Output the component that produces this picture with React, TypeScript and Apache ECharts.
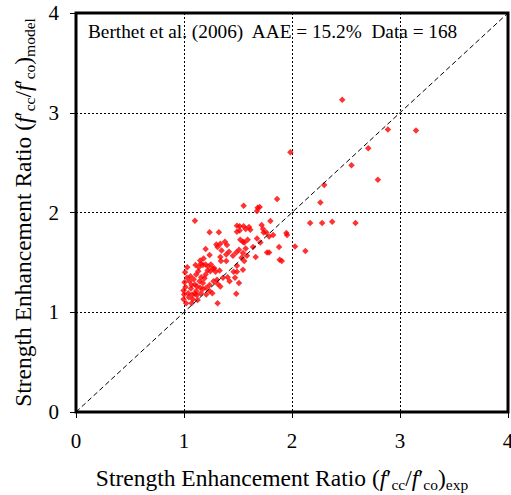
import React, { useEffect, useRef } from "react";
import * as echarts from "echarts";

const FONT = "Liberation Serif";

const ticks = [0, 1, 2, 3, 4];
const titleText = "Berthet et al. (2006)  AAE = 15.2%  Data = 168";
const diagonal = [[0, 0], [4, 4]];

const expRatio = [
  1.237, 1.323, 1.200, 1.299, 1.336, 1.379, 1.398, 1.416, 1.391, 1.348,
  1.311, 1.181, 1.237, 1.336, 1.342, 1.391, 1.453, 1.107, 1.138, 1.156,
  1.175, 1.200, 1.224, 1.249, 1.268, 1.243, 1.218, 1.200, 1.132, 1.113,
  1.292, 1.330, 1.459, 1.472, 1.361, 1.404, 1.422, 1.305, 1.336, 1.274,
  1.237, 1.206, 1.027, 1.051, 1.014, 1.070, 1.101, 1.144, 1.175, 1.064,
  1.113, 1.150, 1.175, 0.996, 1.002, 1.039, 1.076, 1.119, 1.156, 1.206,
  1.237, 1.262, 1.311, 0.996, 1.045, 1.082, 1.126, 1.070, 1.020, 1.101,
  1.484, 1.311, 1.101,
  1.862, 1.552, 1.682, 1.701, 1.676,
  1.490, 1.515, 1.552, 1.602, 1.614, 1.571, 1.515, 1.490,
  1.719, 1.732, 1.738, 1.800, 1.763, 1.825, 1.788, 1.676, 1.707,
  1.521, 1.546, 1.558, 1.589, 1.509, 1.571, 1.484,
  1.948, 1.954, 1.880, 2.028,
  1.639, 1.664, 1.769, 1.788,
  1.546, 1.533, 1.583, 1.558, 1.490, 1.546, 1.490, 1.509, 1.886, 1.905,
  2.465, 2.888, 3.148, 2.706, 2.551, 2.795, 2.298, 2.263, 1.985, 2.168,
  2.279, 2.372, 2.588, 2.124,
  1.005, 1.010, 1.030, 1.060, 1.090, 1.120, 1.160, 1.190, 1.280, 1.150,
];

const modelRatio = [
  1.801, 1.801, 1.633, 1.680, 1.687, 1.707, 1.673, 1.606, 1.580, 1.620,
  1.653, 1.539, 1.573, 1.553, 1.513, 1.513, 1.566, 1.473, 1.452, 1.486,
  1.473, 1.479, 1.459, 1.479, 1.439, 1.412, 1.419, 1.379, 1.412, 1.379,
  1.406, 1.419, 1.406, 1.345, 1.345, 1.352, 1.312, 1.325, 1.258, 1.312,
  1.272, 1.245, 1.345, 1.312, 1.252, 1.272, 1.278, 1.312, 1.292, 1.238,
  1.212, 1.245, 1.232, 1.218, 1.178, 1.191, 1.178, 1.171, 1.191, 1.178,
  1.212, 1.191, 1.285, 1.131, 1.151, 1.131, 1.124, 1.091, 1.091, 1.185,
  1.185, 1.091, 1.918,
  2.135, 2.068, 2.048, 2.055, 2.015,
  1.867, 1.861, 1.861, 1.854, 1.827, 1.834, 1.820, 1.807,
  1.874, 1.834, 1.800, 1.914, 1.800, 1.774, 1.760, 1.740, 1.700,
  1.727, 1.707, 1.700, 1.727, 1.627, 1.640, 1.600,
  1.794, 1.774, 1.653, 1.660,
  1.653, 1.553, 1.600, 1.600,
  1.593, 1.546, 1.566, 1.513, 1.466, 1.426, 1.406, 1.292, 1.526, 1.513,
  3.130, 2.831, 2.821, 2.644, 2.473, 2.329, 2.276, 2.101, 2.603, 1.894,
  1.894, 1.908, 1.894, 1.615,
  1.300, 1.400, 1.450, 1.360, 1.330, 1.260, 1.350, 1.340, 1.440, 1.520,
];

const richStyles = {
  n: { fontSize: 23.5, fontFamily: FONT, color: "#000", lineHeight: 29 },
  i: { fontSize: 23.5, fontFamily: FONT, color: "#000", lineHeight: 29, fontStyle: "italic" },
  s: { fontSize: 15.5, fontFamily: FONT, color: "#000", lineHeight: 16, verticalAlign: "bottom" },
};

const tickRich = { t: { fontSize: 21, fontFamily: FONT, color: "#000" } };

const axisName = (sub: string) =>
  `{n|Strength Enhancement Ratio (}{i|f}{n|′}{s|cc}{n|/}{i|f}{n|′}{s|co}{n|)}{s|${sub}}`;

export default function App() {
  const ref = useRef<HTMLDivElement>(null);
  useEffect(() => {
    if (!ref.current) return;
    const chart = echarts.init(ref.current, null, { renderer: "svg" });
    const points = expRatio.map((x, k) => [x, modelRatio[k]]);
    const axisCommon = {
      type: "value",
      min: ticks[0],
      max: ticks[ticks.length - 1],
      interval: 1,
      axisLine: { show: false },
      axisTick: { show: true, inside: false, length: 6, lineStyle: { color: "#000", width: 1 } },
      splitLine: { show: true, lineStyle: { color: "#000", width: 1, type: [2, 2] } },
      nameLocation: "middle",
    };
    chart.setOption({
      animation: false,
      backgroundColor: "#fff",
      grid: {
        left: 76,
        right: 3,
        top: 13,
        bottom: 83,
        show: true,
        borderColor: "#000",
        borderWidth: 3,
        containLabel: false,
        outerBoundsMode: "none",
      },
      xAxis: {
        ...axisCommon,
        name: axisName("exp"),
        nameGap: 51,
        nameTextStyle: {
          color: "#000",
          fontFamily: FONT,
          fontSize: 23.5,
          rich: richStyles,
          padding: [0, 20, 0, 0],
        },
        axisLabel: {
          color: "#000",
          fontFamily: FONT,
          fontSize: 21,
          margin: 18,
          formatter: (v: number) => `{t|${v}}`,
          rich: tickRich,
        },
      },
      yAxis: {
        ...axisCommon,
        name: axisName("model"),
        nameGap: 38,
        nameRotate: 90,
        nameTextStyle: { color: "#000", fontFamily: FONT, fontSize: 23.5, rich: richStyles },
        axisLabel: {
          color: "#000",
          fontFamily: FONT,
          fontSize: 21,
          margin: 17,
          formatter: (v: number) => `{t|${v}}`,
          rich: tickRich,
        },
      },
      graphic: [
        {
          type: "text",
          x: 88,
          y: 31,
          z: 10,
          style: {
            text: `{h|${titleText}}`,
            rich: { h: { fontSize: 19.3, fontFamily: FONT, fill: "#000", color: "#000" } },
            fill: "#000",
            verticalAlign: "middle",
          },
        },
      ],
      series: [
        {
          type: "line",
          data: diagonal,
          symbol: "none",
          silent: true,
          lineStyle: { color: "#000", width: 1, type: [5, 3] },
        },
        {
          type: "scatter",
          data: points,
          symbol: "diamond",
          symbolSize: 6.5,
          itemStyle: { color: "#ff0000" },
        },
      ],
    });
    return () => chart.dispose();
  }, []);
  return (
    <div
      ref={ref}
      style={{ position: "fixed", left: 0, top: 0, width: 511, height: 495 }}
    />
  );
}
